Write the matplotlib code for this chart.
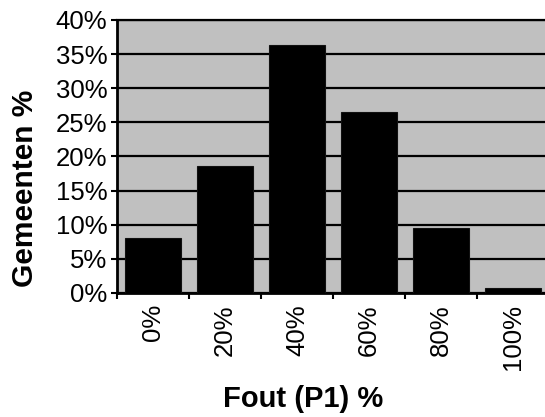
import matplotlib
matplotlib.use('Agg')
import matplotlib.pyplot as plt
import numpy as np

# categorieen en waarden (percentage gemeenten)
categories = ['0%', '20%', '40%', '60%', '80%', '100%']
values = [8.1, 18.6, 36.4, 26.5, 9.5, 0.7]
yticks = [0, 5, 10, 15, 20, 25, 30, 35, 40]
ytick_labels = ['%d%%' % v for v in yticks]

plt.rcParams['font.family'] = ['Liberation Sans', 'DejaVu Sans']

fig = plt.figure(figsize=(5.45, 4.17), dpi=100)
ax = fig.add_axes([117 / 545, 1 - 293 / 417, 432 / 545, 273 / 417])
ax.set_facecolor('#c0c0c0')

X = np.arange(len(categories))
ax.set_axisbelow(True)
ax.yaxis.grid(True, color='black', linewidth=1.6)
ax.bar(X, values, width=0.78, color='black', edgecolor='#111111', linewidth=0.8, zorder=3)

ax.set_xlim(-0.5, len(categories) - 0.5)
ax.set_ylim(0, 40)
ax.set_yticks(yticks)
ax.set_yticklabels(ytick_labels, fontsize=18.5)
ax.set_xticks(X)
ax.set_xticklabels(categories, rotation=90, fontsize=18.5)
ax.set_xticks(np.arange(len(categories) + 1) - 0.5, minor=True)

ax.tick_params(axis='x', which='major', length=0, pad=8)
ax.tick_params(axis='x', which='minor', length=4, width=1.5, direction='out')
ax.tick_params(axis='y', length=4, width=1.5, direction='out', pad=3)

for side in ['right']:
    ax.spines[side].set_visible(False)
ax.spines['left'].set_linewidth(2)
ax.spines['bottom'].set_linewidth(2)
ax.spines['top'].set_linewidth(1.6)

fig.text(25 / 545, 1 - 188 / 417, 'Gemeenten %', rotation=90, fontsize=21.5,
         fontweight='bold', ha='center', va='center')
fig.text(303 / 545, 1 - 399 / 417, 'Fout (P1) %', fontsize=21,
         fontweight='bold', ha='center', va='center')

fig.savefig('out.png', dpi=100)
